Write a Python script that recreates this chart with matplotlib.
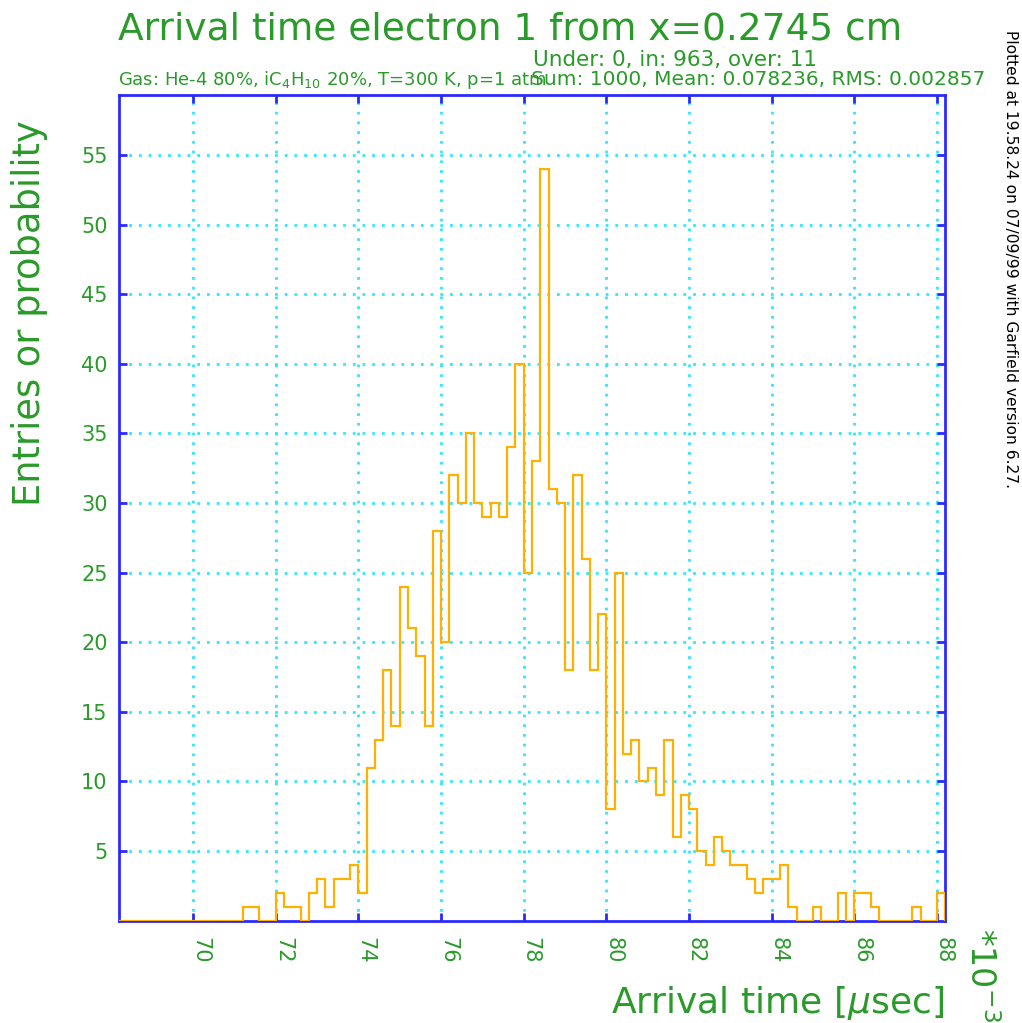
import numpy as np
from matplotlib import pyplot as plt
import matplotlib.transforms as mtransforms

# histogram of arrival times (units of 1e-3 usec), 100 bins of 0.2 from 68.2 to 88.2
bin_start = 68.2
bin_width = 0.2
conteggi = [0, 0, 0, 0, 0, 0, 0, 0, 0, 0,
            0, 0, 0, 0, 0, 1, 1, 0, 0, 2,
            1, 1, 0, 2, 3, 1, 3, 3, 4, 2,
            11, 13, 18, 14, 24, 21, 19, 14, 28, 20,
            32, 30, 35, 30, 29, 30, 29, 34, 40, 25,
            33, 54, 31, 30, 18, 32, 26, 18, 22, 8,
            25, 12, 13, 10, 11, 9, 13, 6, 9, 8,
            5, 4, 6, 5, 4, 4, 3, 2, 3, 3,
            4, 1, 0, 0, 1, 0, 0, 2, 0, 2,
            2, 1, 0, 0, 0, 0, 1, 0, 0, 2]
x_ticks = [70, 72, 74, 76, 78, 80, 82, 84, 86, 88]
y_ticks = [5, 10, 15, 20, 25, 30, 35, 40, 45, 50, 55]

verde = '#2a9a2a'
blu = '#2a2aff'
arancio = '#ffb000'
ciano = '#33e6ff'

W, H = 1022, 1023
fig = plt.figure(figsize=(W / 100, H / 100), dpi=100)
ax = fig.add_axes([118.7 / W, 1 - 920.7 / H, (945.3 - 118.7) / W, (920.7 - 94.5) / H])

bordi = bin_start + bin_width * np.arange(len(conteggi) + 1)
ax.stairs(conteggi, bordi, color=arancio, lw=1.6, zorder=3)

ax.set_xlim(bordi[0], bordi[-1])
ax.set_ylim(0, 59.35)
ax.set_xticks(x_ticks)
ax.set_xticklabels([str(t) for t in x_ticks], rotation=-90, color=verde, fontsize=15)
ax.set_yticks(y_ticks)
ax.set_yticklabels([str(t) for t in y_ticks], color=verde, fontsize=15)
ax.tick_params(direction='in', length=6, width=2, color=blu, top=True, right=True)
ax.tick_params(axis='x', pad=12)
ax.tick_params(axis='y', pad=8)
ax.grid(True, color=ciano, linestyle=(0, (1, 2.5)), linewidth=2)
for s in ax.spines.values():
    s.set_color(blu)
    s.set_linewidth(2)

# sposta le etichette x un po' a destra come nell'originale
offset = mtransforms.ScaledTranslation(7 / 100, 0, fig.dpi_scale_trans)
for lab in ax.get_xticklabels():
    lab.set_transform(lab.get_transform() + offset)

# testi
fig.text(118 / W, 1 - 40 / H, "Arrival time electron 1 from x=0.2745 cm",
         color=verde, fontsize=27, ha='left', va='baseline')
fig.text(533 / W, 1 - 66 / H, "Under: 0, in: 963, over: 11",
         color=verde, fontsize=15.5, ha='left', va='baseline')
fig.text(118 / W, 1 - 85 / H, r"Gas: He-4 80%, iC$_4$H$_{10}$ 20%, T=300 K, p=1 atm",
         color=verde, fontsize=13, ha='left', va='baseline')
fig.text(985 / W, 1 - 85 / H, "Sum: 1000, Mean: 0.078236, RMS: 0.002857",
         color=verde, fontsize=14.5, ha='right', va='baseline')
fig.text(1010 / W, 1 - 30 / H, "Plotted at 19.58.24 on 07/09/99 with Garfield version 6.27.",
         color='black', fontsize=11.2, rotation=-90, ha='center', va='top')
fig.text(30 / W, 1 - 120 / H, "Entries or probability",
         color=verde, fontsize=26.5, rotation=90, ha='center', va='top')
fig.text(945 / W, 1 - 1013 / H, r"Arrival time [$\mu$sec]",
         color=verde, fontsize=26, ha='right', va='baseline')
fig.text(963 / W, 1 - 928 / H, r"$*10^{-3}$",
         color=verde, fontsize=24, rotation=-90, ha='left', va='top')

fig.savefig("out.png", dpi=100)
